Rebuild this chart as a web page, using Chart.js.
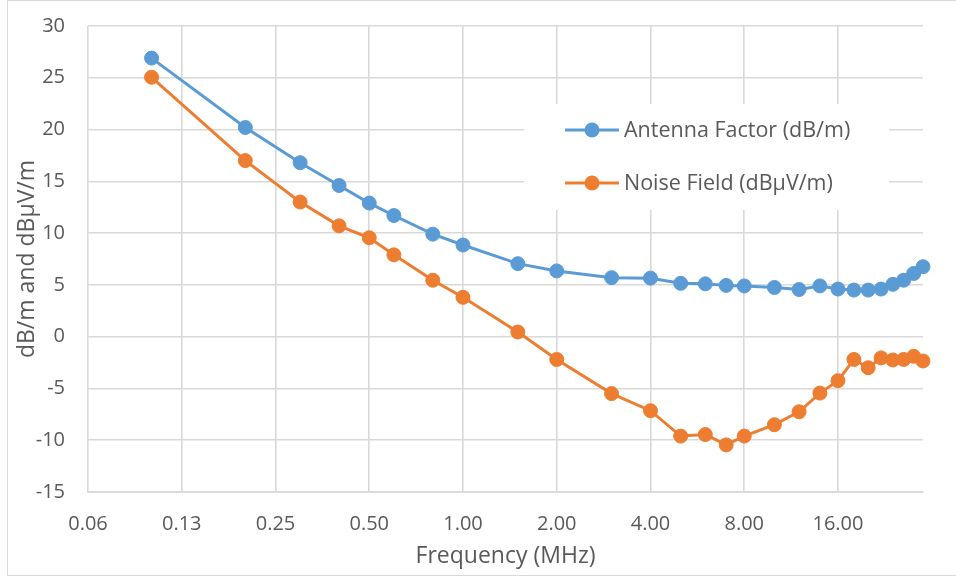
<!DOCTYPE html>
<html>
<head>
<meta charset="utf-8">
<script src="https://cdn.jsdelivr.net/npm/chart.js@4"></script>
<style>
  body { margin: 0; background: #fff; }
  #frame { position: absolute; left: 7px; top: 0; width: 952px; height: 576px; box-sizing: border-box; border: 1px solid #d9d9d9; }
  #chart { position: absolute; left: 0; top: 0; }
</style>
</head>
<body>
<div id="frame"></div>
<canvas id="chart" width="956" height="577"></canvas>
<script>
// frequencies in MHz
const freqs = [0.1, 0.2, 0.3, 0.4, 0.5, 0.6, 0.8, 1, 1.5, 2, 3, 4, 5, 6, 7, 8, 10, 12, 14, 16, 18, 20, 22, 24, 26, 28, 30];
const antennaFactor = [26.9, 20.2, 16.8, 14.6, 12.9, 11.7, 9.9, 8.85, 7.05, 6.35, 5.7, 5.65, 5.15, 5.1, 4.95, 4.9, 4.75, 4.55, 4.9, 4.6, 4.5, 4.5, 4.6, 5.05, 5.45, 6.1, 6.75];
const noiseField = [25.05, 17.0, 13.0, 10.7, 9.55, 7.9, 5.45, 3.8, 0.45, -2.2, -5.5, -7.15, -9.6, -9.45, -10.45, -9.6, -8.5, -7.25, -5.45, -4.25, -2.2, -3.0, -2.05, -2.25, -2.2, -1.9, -2.35];
const xTicks = [0.0625, 0.125, 0.25, 0.5, 1, 2, 4, 8, 16];
const seriesNames = ['Antenna Factor (dB/m)', 'Noise Field (dBµV/m)'];
const colors = ['#5b9bd5', '#ed7d31'];

const FONT = 'Open Sans';
const textColor = '#595959';
const gridColor = '#d9d9d9';

function pts(ys) {
  return freqs.map((f, i) => ({ x: f, y: ys[i] }));
}

// legend sits inside the plot, drawn by hand like Excel does
const insideLegend = {
  id: 'insideLegend',
  afterDraw(chart) {
    const ctx = chart.ctx;
    ctx.save();
    ctx.fillStyle = '#fff';
    ctx.fillRect(524, 104, 365, 106);
    const rows = [130, 183];
    chart.data.datasets.forEach((ds, i) => {
      const y = rows[i];
      ctx.strokeStyle = ds.borderColor;
      ctx.lineWidth = 3;
      ctx.beginPath();
      ctx.moveTo(565, y);
      ctx.lineTo(619, y);
      ctx.stroke();
      ctx.fillStyle = ds.borderColor;
      ctx.beginPath();
      ctx.arc(592, y, 7.5, 0, Math.PI * 2);
      ctx.fill();
      ctx.fillStyle = textColor;
      ctx.font = '21.5px "' + FONT + '"';
      ctx.textBaseline = 'middle';
      ctx.fillText(ds.label, 624, y + 1);
    });
    ctx.restore();
  }
};

new Chart(document.getElementById('chart'), {
  type: 'scatter',
  data: {
    datasets: [
      { label: seriesNames[0], data: pts(antennaFactor), borderColor: colors[0], backgroundColor: colors[0], clip: false },
      { label: seriesNames[1], data: pts(noiseField), borderColor: colors[1], backgroundColor: colors[1], clip: false }
    ]
  },
  options: {
    responsive: false,
    animation: false,
    showLine: true,
    layout: { padding: { left: 0, right: 33, top: 26, bottom: 0 } },
    elements: {
      line: { borderWidth: 3, tension: 0 },
      point: { radius: 7, borderWidth: 1, hoverRadius: 7 }
    },
    plugins: {
      legend: { display: false },
      tooltip: { enabled: false }
    },
    scales: {
      x: {
        type: 'logarithmic',
        min: 0.0625,
        max: 30,
        afterBuildTicks(scale) {
          scale.ticks = xTicks.map(v => ({ value: v }));
        },
        afterFit(scale) { scale.height = 85; },
        grid: { color: gridColor, lineWidth: 1.6, drawTicks: false },
        border: { color: gridColor, width: 1.8 },
        ticks: {
          autoSkip: false,
          maxRotation: 0,
          padding: 20,
          color: textColor,
          font: { family: FONT, size: 20 },
          callback: v => Number(v).toFixed(2)
        },
        title: {
          display: true,
          text: 'Frequency (MHz)',
          color: textColor,
          font: { family: FONT, size: 23 },
          padding: { top: 0, bottom: 7 }
        }
      },
      y: {
        min: -15,
        max: 30,
        afterFit(scale) { scale.width = 88; },
        // invisible tick marks push the labels left without adding top padding
        grid: { color: gridColor, lineWidth: 1.6, drawTicks: true, tickLength: 21, tickColor: 'rgba(0,0,0,0)' },
        border: { display: false },
        ticks: {
          stepSize: 5,
          padding: 2,
          color: textColor,
          font: { family: FONT, size: 20 }
        },
        title: {
          display: true,
          text: 'dB/m and dBµV/m',
          color: textColor,
          font: { family: FONT, size: 23 },
          padding: { top: 14, bottom: 0 }
        }
      }
    }
  },
  plugins: [insideLegend]
});
</script>
</body>
</html>
